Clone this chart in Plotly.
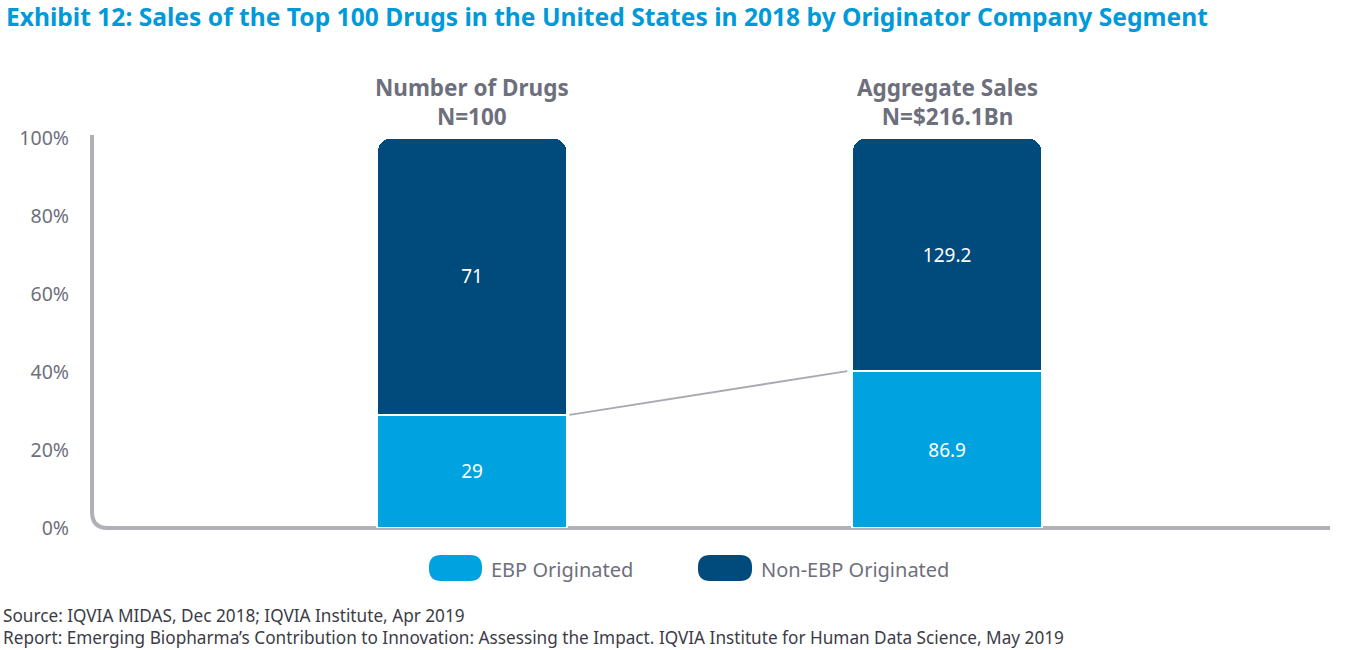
import plotly.graph_objects as go

groups = ["Number of Drugs", "Aggregate Sales"]
group_notes = ["N=100", "N=$216.1Bn"]
ebp_values = [29, 86.9]        # EBP originated (drugs, $Bn)
non_ebp_values = [71, 129.2]   # non-EBP originated (drugs, $Bn)
totals = [a + b for a, b in zip(ebp_values, non_ebp_values)]
ebp_share = [100 * a / t for a, t in zip(ebp_values, totals)]
non_ebp_share = [100 * b / t for b, t in zip(non_ebp_values, totals)]
y_ticks = [0, 20, 40, 60, 80, 100]

LIGHT = "#00a3e0"
DARK = "#004a7c"
GREY = "#6e6f7d"
AXIS = "#b1b0b8"
FONT = "Noto Sans"

W, H = 1352, 650
L, R, T, B = 92, 22, 134, 122
PW, PH = W - L - R, H - T - B


def px(x):
    return (x - L) / PW


def py(y):
    return (H - B - y) / PH


xs = list(range(len(groups)))

fig = go.Figure()
fig.add_trace(go.Bar(
    x=xs, y=ebp_share, name="EBP Originated",
    marker=dict(color=LIGHT, line=dict(color="white", width=1.5)),
    text=[f"{v:g}" for v in ebp_values], textposition="inside",
    insidetextanchor="middle",
    textfont=dict(color="white", size=19, family=FONT),
    width=0.4, hoverinfo="skip",
))
fig.add_trace(go.Bar(
    x=xs, y=non_ebp_share, name="Non-EBP Originated",
    marker=dict(color=DARK, line=dict(color="white", width=1.5)),
    text=[f"{v:g}" for v in non_ebp_values], textposition="inside",
    insidetextanchor="middle",
    textfont=dict(color="white", size=19, family=FONT),
    width=0.4, hoverinfo="skip",
))

# connector between the EBP tops
fig.add_trace(go.Scatter(
    x=[xs[0] + 0.205, xs[1] - 0.21], y=ebp_share,
    mode="lines", line=dict(color="#aaa9b2", width=2),
    hoverinfo="skip", showlegend=False,
))

# group headers
for x, g, n in zip(xs, groups, group_notes):
    fig.add_annotation(
        x=x, xref="x", y=py(102), yref="paper", yanchor="middle",
        text=f"<b>{g}<br>{n}</b>", showarrow=False,
        font=dict(size=22.5, color=GREY, family=FONT),
    )

shapes = []
# curved axis line
path = (f"M {px(92)},{py(135)} L {px(92)},{py(512)} "
        f"Q {px(92)},{py(528)} {px(108)},{py(528)} L {px(1330)},{py(528)}")
shapes.append(dict(type="path", xref="paper", yref="paper", path=path,
                   line=dict(color=AXIS, width=4), layer="below"))


def pill(x0, x1, y0, y1, r, color):
    p = (f"M {px(x0 + r)},{py(y0)} L {px(x1 - r)},{py(y0)} "
         f"Q {px(x1)},{py(y0)} {px(x1)},{py(y0 + r)} "
         f"L {px(x1)},{py(y1 - r)} Q {px(x1)},{py(y1)} {px(x1 - r)},{py(y1)} "
         f"L {px(x0 + r)},{py(y1)} Q {px(x0)},{py(y1)} {px(x0)},{py(y1 - r)} "
         f"L {px(x0)},{py(y0 + r)} Q {px(x0)},{py(y0)} {px(x0 + r)},{py(y0)} Z")
    return dict(type="path", xref="paper", yref="paper", path=p,
                fillcolor=color, line=dict(width=0))


# custom legend
shapes.append(pill(429, 482, 555, 581, 12, LIGHT))
shapes.append(pill(698, 752, 555, 581, 12, DARK))
fig.add_annotation(x=px(489), y=py(569), xref="paper", yref="paper",
                   xanchor="left", yanchor="middle", text="EBP Originated",
                   showarrow=False, font=dict(size=20, color=GREY, family=FONT))
fig.add_annotation(x=px(759), y=py(569), xref="paper", yref="paper",
                   xanchor="left", yanchor="middle", text="Non-EBP Originated",
                   showarrow=False, font=dict(size=20, color=GREY, family=FONT))

# title
fig.add_annotation(
    x=px(4), y=py(16), xref="paper", yref="paper", xanchor="left", yanchor="middle",
    text="<b>Exhibit 12: Sales of the Top 100 Drugs in the United States in 2018 "
         "by Originator Company Segment</b>",
    showarrow=False, font=dict(size=24.6, color="#009ad9", family=FONT))

# source notes, one box for both lines
fig.add_annotation(
    x=px(1), y=py(626), xref="paper", yref="paper", xanchor="left", yanchor="middle",
    align="left",
    text="Source: IQVIA MIDAS, Dec 2018; IQVIA Institute, Apr 2019<br>"
         "Report: Emerging Biopharma’s Contribution to Innovation: Assessing the Impact. "
         "IQVIA Institute for Human Data Science, May 2019",
    showarrow=False, font=dict(size=17.2, color="#3c3c46", family=FONT))

fig.update_layout(
    width=W, height=H,
    margin=dict(l=L, r=R, t=T, b=B),
    paper_bgcolor="white", plot_bgcolor="white",
    barmode="stack", barcornerradius=14,
    showlegend=False,
    shapes=shapes,
    xaxis=dict(range=[-0.8, 1.806], visible=False, fixedrange=True),
    yaxis=dict(
        range=[0, 101], tickmode="array", tickvals=y_ticks,
        ticktext=[f"{v}%" for v in y_ticks],
        showgrid=False, zeroline=False, showline=False,
        ticks="", ticklabelstandoff=22,
        tickfont=dict(size=19.5, color=GREY, family=FONT),
        fixedrange=True,
    ),
)

fig.write_html("out.html", config={"displayModeBar": False},
               post_script="document.body.style.margin='0px';")
